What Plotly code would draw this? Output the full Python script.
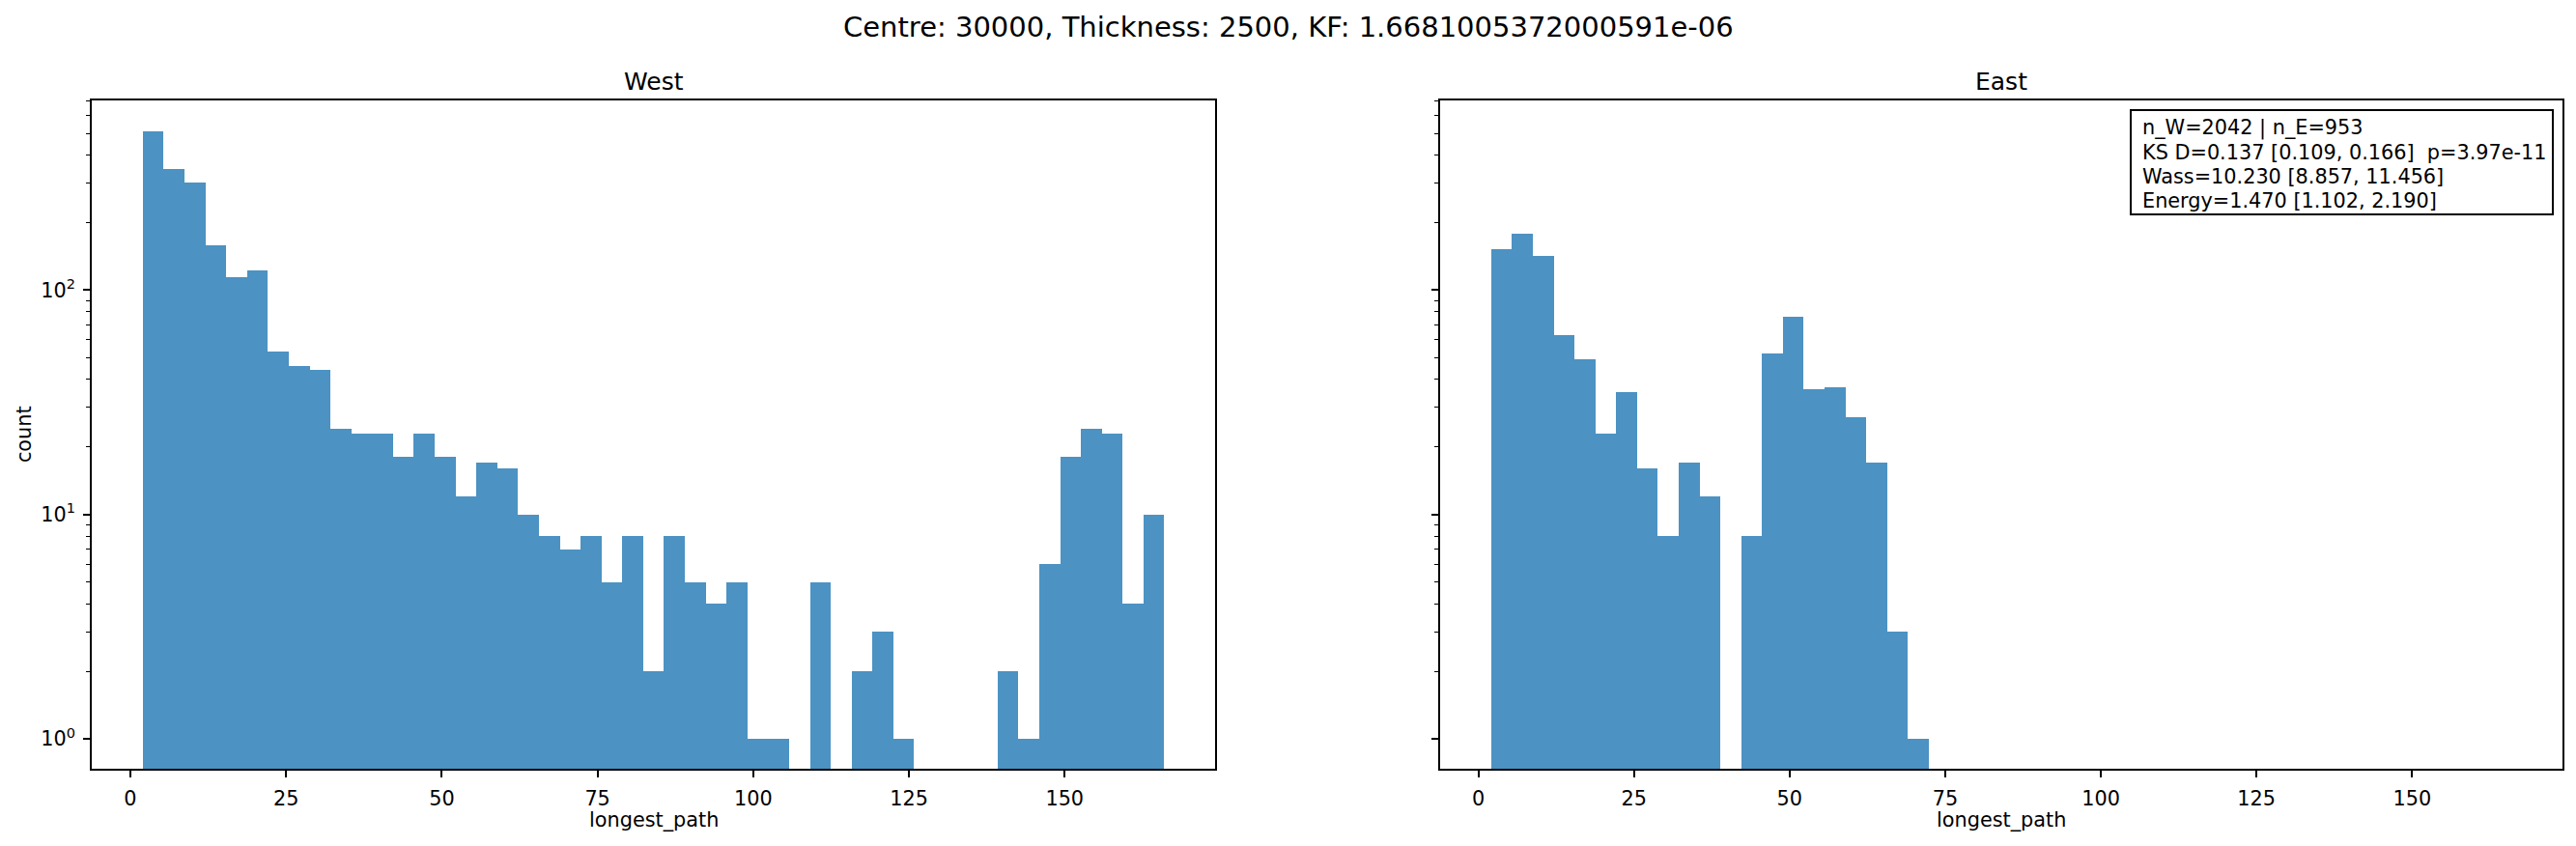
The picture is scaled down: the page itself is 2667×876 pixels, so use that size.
import numpy as np
import plotly.graph_objects as go

# ---- data ----
bin_min = 2.0
bin_max = 166.0
n_bins = 49

west_counts = [512, 345, 302, 159, 114, 122, 53, 46, 44, 24,
               23, 23, 18, 23, 18, 12, 17, 16, 10, 8,
               7, 8, 5, 8, 2, 8, 5, 4, 5, 1,
               1, 0, 5, 0, 2, 3, 1, 0, 0, 0,
               0, 2, 1, 6, 18, 24, 23, 4, 10]

east_counts = [152, 179, 142, 63, 49, 23, 35, 16, 8, 17,
               12, 0, 8, 52, 76, 36, 37, 27, 17, 3,
               1] + [0] * 28

panel_titles = ["West", "East"]
suptitle = "Centre: 30000, Thickness: 2500, KF: 1.6681005372000591e-06"
x_label = "longest_path"
y_label = "count"
x_tick_vals = [0, 25, 50, 75, 100, 125, 150]
y_tick_vals = [1, 10, 100]
y_tick_text = ["10<sup>0</sup>", "10<sup>1</sup>", "10<sup>2</sup>"]
stats_lines = [
    "n_W=2042 | n_E=953",
    "KS D=0.137 [0.109, 0.166]\u00a0\u00a0p=3.97e-11",
    "Wass=10.230 [8.857, 11.456]",
    "Energy=1.470 [1.102, 2.190]",
]

# ---- figure ----
W, H = 2667, 876
FONT = "DejaVu Sans"
bar_color = "rgba(31,119,180,0.8)"

edges = np.linspace(bin_min, bin_max, n_bins + 1)
centers = (edges[:-1] + edges[1:]) / 2
bw = edges[1] - edges[0]


def clean(c):
    return [v if v > 0 else None for v in c]


fig = go.Figure()
fig.add_trace(go.Bar(x=centers, y=clean(west_counts), width=bw,
                     marker=dict(color=bar_color, line=dict(width=0)),
                     xaxis="x", yaxis="y", showlegend=False))
fig.add_trace(go.Bar(x=centers, y=clean(east_counts), width=bw,
                     marker=dict(color=bar_color, line=dict(width=0)),
                     xaxis="x2", yaxis="y2", showlegend=False))

px_x = lambda p: p / W
px_y = lambda p: (H - p) / H

dom_w = [px_x(95), px_x(1258.3)]
dom_e = [px_x(1490.6), px_x(2653.3)]
dom_y = [px_y(796.2), px_y(104)]

minor_vals = [m * 10 ** k for k in range(0, 3) for m in range(2, 10)]

common_x = dict(range=[-6.2, 174.2], tickmode="array", tickvals=x_tick_vals,
                ticks="outside", ticklen=7, tickwidth=1.6, tickcolor="black",
                showline=True, mirror=True, linecolor="black", linewidth=1.6,
                showgrid=False, zeroline=False, ticklabelstandoff=4,
                tickfont=dict(family=FONT, size=20.8, color="black"))
common_y = dict(type="log", range=[-0.1343, 2.8454], tickmode="array",
                tickvals=y_tick_vals, ticktext=y_tick_text,
                ticks="outside", ticklen=7, tickwidth=1.6, tickcolor="black",
                showline=True, mirror=True, linecolor="black", linewidth=1.6,
                showgrid=False, zeroline=False, ticklabelstandoff=4,
                minor=dict(tickmode="array", tickvals=minor_vals, ticks="outside",
                           ticklen=4, tickwidth=1.2, tickcolor="black", showgrid=False),
                tickfont=dict(family=FONT, size=20.8, color="black"))

fig.update_layout(
    width=W, height=H,
    margin=dict(l=0, r=0, t=0, b=0),
    paper_bgcolor="white", plot_bgcolor="white",
    bargap=0,
    font=dict(family=FONT, color="black"),
    xaxis=dict(domain=dom_w, anchor="y", **common_x),
    yaxis=dict(domain=dom_y, anchor="x", **common_y),
    xaxis2=dict(domain=dom_e, anchor="y2", **common_x),
    yaxis2=dict(domain=dom_y, anchor="x2", matches="y", showticklabels=False,
                **{k: v for k, v in common_y.items() if k != "tickfont"}),
)

ann = []
ann.append(dict(text=suptitle, x=0.5, y=px_y(28), xref="paper", yref="paper",
                xanchor="center", yanchor="middle", showarrow=False,
                font=dict(family=FONT, size=29, color="black")))
for t, d in zip(panel_titles, [dom_w, dom_e]):
    ann.append(dict(text=t, x=(d[0] + d[1]) / 2, y=px_y(85), xref="paper", yref="paper",
                    xanchor="center", yanchor="middle", showarrow=False,
                    font=dict(family=FONT, size=25, color="black")))
    ann.append(dict(text=x_label, x=(d[0] + d[1]) / 2, y=px_y(849), xref="paper", yref="paper",
                    xanchor="center", yanchor="middle", showarrow=False,
                    font=dict(family=FONT, size=20.8, color="black")))
ann.append(dict(text=y_label, x=px_x(25), y=(dom_y[0] + dom_y[1]) / 2, xref="paper", yref="paper",
                xanchor="center", yanchor="middle", textangle=-90, showarrow=False,
                font=dict(family=FONT, size=20.8, color="black")))

# stats box: one annotation per line inside a drawn rectangle
box_l, box_r, box_t, box_b = 2206, 2643, 114, 222
for i, line in enumerate(stats_lines):
    ann.append(dict(text=line, x=px_x(box_l + 10), y=px_y(box_t + 19 + 25 * i),
                    xref="paper", yref="paper", xanchor="left", yanchor="middle",
                    align="left", showarrow=False,
                    font=dict(family=FONT, size=20.8, color="black")))
fig.update_layout(annotations=ann)
fig.add_shape(type="rect", xref="paper", yref="paper",
              x0=px_x(box_l), x1=px_x(box_r), y0=px_y(box_b), y1=px_y(box_t),
              line=dict(color="black", width=2), fillcolor="white", layer="above")
# keep text above the rectangle fill: draw rect without fill instead
fig.layout.shapes[0].fillcolor = "rgba(0,0,0,0)"

fig.write_html("out.html", config={"displayModeBar": False},
               post_script="document.body.style.margin='0';document.body.style.overflow='hidden';")
